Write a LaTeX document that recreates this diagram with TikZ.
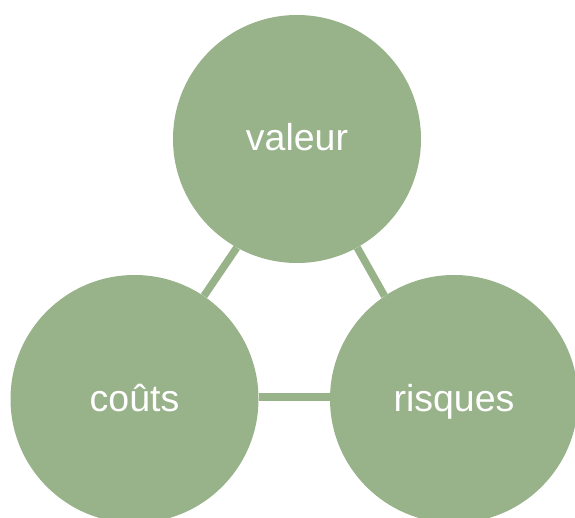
\documentclass[tikz,border=0pt]{standalone}
\usepackage{fontspec}
\setmainfont{Liberation Sans}
\definecolor{sage}{RGB}{152,178,138}
\begin{document}
\begin{tikzpicture}[x=1pt,y=-1pt,
  ball/.style={circle, fill=sage, draw=none, inner sep=0pt, minimum size=248pt,
    text=white, font=\fontsize{37.5}{40}\selectfont, text height=24pt, text depth=0pt},
  link/.style={draw=sage, line width=7.5pt}]
\useasboundingbox (0,0) rectangle (575,518);
\begin{scope}
\clip (0,0) rectangle (575,518);
\node[ball] (valeur) at (297,139) {valeur};
\node[ball] (couts) at (134.5,399) {coûts};
\node[ball] (risques) at (454,399) {risques};
\draw[link] (couts.56) -- (valeur.241);
\draw[link] (valeur.299) -- (risques.124);
\draw[link] ([yshift=2pt]couts.east) -- ([yshift=2pt]risques.west);
\end{scope}
\end{tikzpicture}
\end{document}
